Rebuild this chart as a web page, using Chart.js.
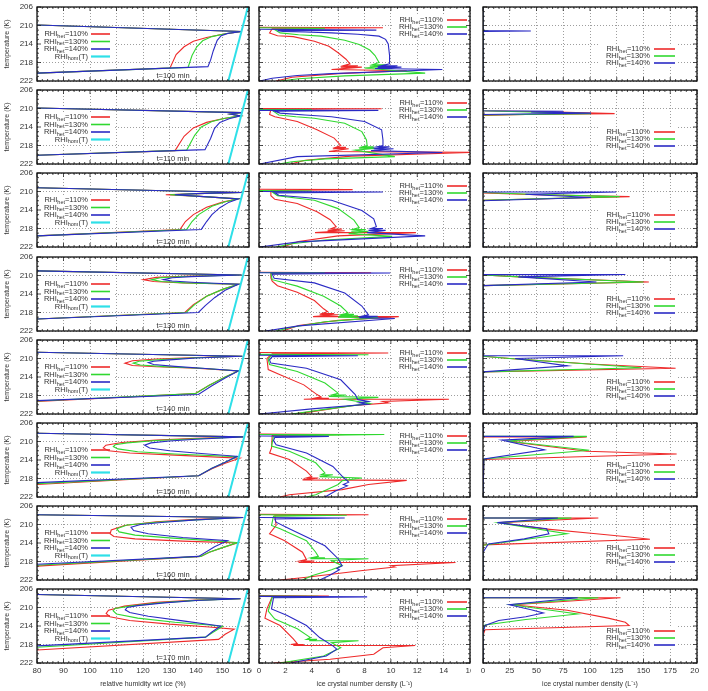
<!DOCTYPE html>
<html>
<head>
<meta charset="utf-8">
<script src="https://cdn.jsdelivr.net/npm/chart.js@4.4.0/dist/chart.umd.min.js"></script>
<style>
  body { margin: 0; background: #fff; width: 708px; height: 691px; position: relative; overflow: hidden; }
</style>
</head>
<body>
<script>
// time of each row (min) and the het thresholds of the three runs
const times = [100, 110, 120, 130, 140, 150, 160, 170];
const hetLabels = ['110%', '130%', '140%'];

// homogeneous freezing threshold [RHI %, T K]
const rhiHom = [[152.2, 222], [159.6, 206]];

// relative humidity wrt ice profiles [RHI %, T K]
const rhi100_110 = [[80,209.9],[157.3,211.3],[150,211.9],[144,212.6],[139,213.4],[135.5,214.6],[132.5,216.3],[130.2,219.2],[80,220.3]];
const rhi100_130 = [[80,209.9],[157.3,211.3],[151,211.8],[146,212.4],[142.5,213.3],[140.3,214.6],[138.5,216.5],[137,219.05],[80,220.3]];
const rhi100_140 = [[80,209.9],[157.3,211.3],[152,211.7],[149.5,212.2],[148,213.2],[146.5,215.5],[145.5,217.5],[144.5,218.9],[80,220.3]];

const rhi110_110 = [[80,209.9],[157.2,210.9],[153,211.2],[156.8,211.6],[150,212.2],[144,213.0],[139,214.2],[135.5,216.0],[132.1,219.1],[80,220.1]];
const rhi110_130 = [[80,209.9],[157.2,210.9],[153,211.2],[156.8,211.6],[151,212.1],[146,212.8],[142,214.0],[139.5,215.8],[136.5,219.0],[80,220.1]];
const rhi110_140 = [[80,209.9],[157.2,210.9],[153,211.2],[156.8,211.6],[152.5,212.2],[149,213.0],[147,214.3],[145.5,216.5],[143.4,218.9],[80,220.1]];

const rhi120_110 = [[80,209.2],[157.2,210.2],[140,210.45],[128.6,210.7],[140,211.0],[156,211.6],[150,212.3],[144,213.4],[139,215.0],[136,216.5],[134,218.2],[80,219.6]];
const rhi120_130 = [[80,209.2],[157.2,210.2],[140,210.45],[130.2,210.7],[140,211.0],[156,211.6],[151,212.2],[146,213.2],[141,215.0],[138.5,216.5],[136.5,218.2],[80,219.6]];
const rhi120_140 = [[80,209.2],[157.2,210.2],[140,210.45],[132,210.7],[140,211.0],[156,211.6],[152.5,212.3],[149,213.5],[146,215.0],[144,216.5],[142,218.2],[80,219.6]];

const rhi130_110 = [[80,209.0],[157.2,209.9],[135,210.15],[125,210.4],[120.1,210.9],[124,211.3],[135,211.6],[156,211.9],[150,213.0],[144,214.5],[139,216.3],[135.8,218.0],[80,219.4]];
const rhi130_130 = [[80,209.0],[157.2,209.9],[135,210.2],[127,210.45],[123.3,210.9],[127,211.3],[136,211.6],[156,211.9],[150,213.0],[144,214.5],[139.5,216.3],[136.3,218.0],[80,219.4]];
const rhi130_140 = [[80,209.0],[157.2,209.9],[138,210.25],[131,210.5],[127.7,210.9],[131,211.2],[140,211.5],[156,211.9],[151,213.2],[147,214.8],[143.5,216.5],[140.9,218.0],[80,219.4]];

const rhi140_110 = [[80,208.65],[157.5,209.5],[140,209.8],[125,210.1],[116,210.5],[113.2,211.0],[116,211.5],[125,211.8],[140,212.1],[156,212.7],[151,214.0],[145,215.8],[139.6,217.6],[80,219.3]];
const rhi140_130 = [[80,208.65],[157.5,209.5],[140,209.85],[127,210.2],[118.5,210.6],[116.3,211.0],[119,211.4],[128,211.75],[142,212.1],[156,212.7],[151,214.0],[145,215.8],[139.8,217.6],[80,219.2]];
const rhi140_140 = [[80,208.65],[157.5,209.5],[140,209.9],[130,210.3],[124,210.6],[122,210.9],[124,211.3],[132,211.7],[145,212.2],[156,212.7],[151,214.2],[146,215.9],[140.9,217.8],[80,219.1]];

const rhi150_110 = [[80,208.2],[157.8,209.0],[140,209.3],[125,209.7],[112,210.2],[106,210.8],[105,211.4],[107,212.0],[115,212.5],[130,212.9],[156.5,213.6],[151,214.7],[146,215.9],[141,217.4],[80,219.3]];
const rhi150_130 = [[80,208.2],[157.8,209.0],[140,209.4],[125,209.8],[114,210.3],[109.5,210.7],[108.8,211.1],[110.5,211.6],[118,212.2],[132,212.7],[155.5,213.3],[151,214.5],[146,215.8],[141,217.4],[80,219.1]];
const rhi150_140 = [[80,208.2],[157.8,209.0],[140,209.5],[130,209.9],[123,210.3],[120.6,210.8],[122.5,211.4],[130,212.0],[142,212.6],[155.5,213.2],[151,214.5],[146,215.8],[141,217.4],[80,218.9]];

const rhi160_110 = [[80,207.9],[157.8,208.5],[140,208.9],[125,209.4],[113,210.2],[108,211.2],[107.6,212.0],[109,212.6],[117,213.1],[135,213.6],[155.6,214.0],[150,215.0],[145,216.0],[141.8,216.9],[80,219.0]];
const rhi160_130 = [[80,207.9],[157.8,208.5],[140,209.0],[125,209.5],[114,210.1],[110.1,210.9],[111,211.6],[117,212.3],[130,212.9],[155.6,213.9],[150,215.0],[145,216.0],[141.8,216.9],[80,218.8]];
const rhi160_140 = [[80,207.9],[157.8,208.5],[140,209.0],[128,209.5],[119,210.0],[115.5,210.6],[116.5,211.3],[122,212.0],[135,212.8],[151.9,213.5],[147,214.8],[141,216.9],[80,218.6]];

const rhi170_110 = [[80,207.2],[156.8,208.1],[140,208.4],[125,208.9],[113,209.7],[107,210.6],[106.1,211.3],[107.5,212.0],[115,212.8],[130,213.6],[145,214.2],[154.4,214.7],[151,215.8],[148.5,216.9],[80,219.2]];
const rhi170_130 = [[80,207.2],[156.8,208.1],[140,208.45],[126,209.0],[115,209.7],[109.5,210.2],[108.7,210.7],[110,211.4],[118,212.3],[132,213.2],[145,213.8],[150,214.1],[146,215.5],[143.6,216.4],[80,218.6]];
const rhi170_140 = [[80,207.2],[156.8,208.1],[140,208.5],[128,209.0],[118,209.6],[114,210.0],[113.3,210.5],[115,211.1],[122,211.9],[135,212.9],[149.3,214.0],[146,215.3],[143.6,216.4],[80,218.3]];

// ice crystal number density, middle column [L-1, T K]
const icnA100_110 = [[0,210.4],[9.4,210.5],[1.0,210.7],[0.8,211.6],[1.4,212.2],[2.6,212.4],[4.2,213.4],[5.3,214.5],[6.0,215.9],[6.6,217.3],[6.9,218.3],[6.4,218.7],[7.5,218.7],[6.2,219.0],[7.8,219.0],[5.5,219.5],[11.2,219.8],[6,220.4],[2.5,221.2],[1.3,222]];
const icnA100_130 = [[0,210.5],[5,210.6],[1.2,210.9],[1.6,211.6],[3.0,212.0],[4.7,212.3],[6.5,213.2],[7.6,214.1],[8.4,215.3],[8.8,216.5],[9.1,218.0],[8.6,218.5],[9.6,218.5],[8.4,218.8],[9.8,218.8],[8.0,219.2],[12.6,220.3],[6.5,220.9],[3,221.5],[1.6,222]];
const icnA100_140 = [[0,210.8],[8.9,211.0],[1.4,211.1],[1.8,211.3],[3.5,211.4],[5.5,211.6],[7.5,211.9],[9.1,212.3],[9.6,213.0],[9.8,214.0],[9.9,216.5],[9.9,218.3],[9.3,218.7],[10.5,218.7],[9.0,219.0],[10.8,219.0],[8.8,219.3],[13.9,219.5],[5.5,220.4],[2.9,220.8],[1,221.4],[0.05,222]];

const icnA110_110 = [[0,210.0],[9.3,210.05],[6.0,210.1],[0.9,210.3],[0.8,211.3],[1.2,211.8],[2.9,212.8],[4.4,214.6],[5.7,216.4],[6.2,218.0],[5.8,218.4],[6.6,218.4],[5.6,218.7],[6.8,218.7],[5.3,219.3],[16.2,219.5],[7,220.3],[3.5,221.2],[2.4,222]];
const icnA110_130 = [[0,210.2],[4,210.25],[1.0,210.4],[1.5,211.4],[2.8,211.8],[4.2,212.1],[6.5,213.2],[7.8,215.0],[8.15,216.8],[8.2,218.0],[7.8,218.3],[8.7,218.3],[7.6,218.6],[8.9,218.6],[7.3,219.0],[10.3,220.4],[5,220.9],[2.5,221.5],[1.5,222]];
const icnA110_140 = [[0,210.4],[9.05,210.4],[1.2,210.6],[1.6,211.0],[3.5,211.4],[5.5,211.8],[8.0,212.8],[9.3,214.6],[9.4,216.8],[9.4,218.0],[8.9,218.3],[9.9,218.3],[8.7,218.7],[10.2,218.7],[8.5,219.1],[13.9,219.5],[2.9,220.4],[0.05,222]];

const icnA120_110 = [[0,209.5],[7.1,209.6],[0.9,209.8],[0.9,210.9],[1.2,211.7],[2.9,212.6],[4.4,214.4],[5.4,216.1],[5.85,217.6],[5.4,218.1],[6.3,218.1],[5.2,218.5],[6.5,218.5],[4.25,218.9],[11.9,218.9],[6,219.6],[3,220.8],[1.8,222]];
const icnA120_130 = [[0,209.8],[4,209.9],[1.0,210.1],[1.4,210.9],[2.8,211.4],[4.2,211.9],[6.0,213.7],[7.2,216.2],[7.6,217.8],[7.1,218.2],[8.1,218.2],[7.0,218.6],[8.3,218.6],[6.8,219.1],[10.1,219.7],[5,220.5],[2.5,221.3],[1.3,222]];
const icnA120_140 = [[0,210.0],[9.4,210.1],[1.2,210.3],[1.5,210.8],[3.5,211.3],[5.5,211.9],[7.8,214.1],[8.7,215.9],[8.9,217.6],[8.5,218.0],[9.4,218.0],[8.3,218.4],[9.6,218.4],[8.2,218.9],[12.6,219.6],[3,220.9],[0.05,222]];

const icnA130_110 = [[0,209.3],[8.5,209.4],[0.9,209.6],[0.9,210.5],[1.0,211.2],[1.4,212.2],[2.9,213.6],[4.2,215.4],[4.9,217.2],[5.2,217.8],[4.8,218.2],[5.7,218.2],[4.6,218.5],[6.0,218.5],[4.1,218.9],[10.6,218.9],[6,219.7],[3,220.8],[1.8,222]];
const icnA130_130 = [[0,209.35],[5,209.4],[0.9,209.6],[1.0,210.9],[2.9,212.3],[4.9,214.5],[6.2,216.6],[6.75,218.1],[6.3,218.4],[7.2,218.4],[6.1,218.7],[7.5,218.7],[6.0,219.0],[9.05,219.1],[5,220.0],[2.5,221.2],[1.3,222]];
const icnA130_140 = [[0,209.4],[9.95,209.45],[1.0,209.7],[1.15,210.6],[4.2,211.6],[6.5,213.8],[7.8,216.6],[8.3,218.5],[7.8,218.8],[9.0,218.8],[7.6,219.1],[10.3,219.3],[3,220.9],[0.5,222]];

const icnA140_110 = [[0,208.7],[9.8,208.8],[1.0,209.0],[0.6,210.0],[0.7,212.4],[1.6,213.5],[3.4,215.7],[4.4,217.8],[4.7,218.3],[4.2,218.6],[5.3,218.6],[3.4,218.8],[14.4,218.8],[9.4,219.3],[9.8,219.6],[7,220.2],[3.8,221.6],[2.5,222]];
const icnA140_130 = [[0,209.1],[8.3,209.2],[0.9,209.4],[0.7,210.2],[0.8,211.3],[2.9,212.8],[5.0,215.3],[6.0,217.5],[5.5,217.9],[6.6,217.9],[5.3,218.2],[9.05,218.4],[6.5,218.8],[8.4,219.7],[5,221],[2.5,222]];
const icnA140_140 = [[0,209.3],[7.5,209.4],[1.0,209.6],[0.8,210.3],[0.9,211.0],[3.6,212.1],[6.2,214.6],[7.3,217.8],[7.5,218.9],[8.3,219.3],[7.6,219.6],[8.2,219.9],[4,220.9],[0.05,222]];

const icnA150_110 = [[0,208.4],[6.65,208.5],[1.0,208.7],[0.95,211.4],[0.8,212.5],[2.3,213.9],[3.6,216.4],[4.0,217.6],[3.6,217.9],[4.5,217.9],[3.3,218.3],[11.2,218.4],[8.3,219.3],[6.3,220.4],[2.3,221.5],[1.6,222]];
const icnA150_130 = [[0,208.5],[9.5,208.5],[1.1,208.8],[0.95,211.0],[2.3,212.1],[4.3,214.6],[5.0,216.8],[4.7,217.2],[5.6,217.2],[4.6,217.6],[7.8,217.9],[6.3,218.5],[6.0,219.3],[4.3,221.5],[3.6,222]];
const icnA150_140 = [[0,208.8],[5.3,208.9],[1.2,209.1],[1.1,209.8],[1.3,210.7],[3.6,212.5],[5.6,215.4],[6.3,217.5],[6.8,218.8],[6.4,219.3],[6.7,219.6],[5.8,220.7],[5.0,222]];

const icnA160_110 = [[0,207.8],[8.3,207.9],[1.2,208.1],[1.3,210.2],[0.8,212.0],[1.95,213.5],[3.3,216.0],[3.6,217.6],[3.1,217.9],[4.2,217.9],[3.0,218.2],[14.9,218.2],[10.0,218.9],[10.3,219.2],[7.7,220.0],[3.6,221.4],[1.6,222]];
const icnA160_130 = [[0,207.9],[6.65,208.0],[1.1,208.2],[0.95,210.2],[1.6,210.9],[3.6,213.5],[4.3,216.0],[4.5,216.9],[4.0,217.2],[5.0,217.2],[3.9,217.4],[8.3,217.4],[5.5,217.8],[6.3,218.9],[5.5,219.8],[4.0,221.1],[3.3,222]];
const icnA160_140 = [[0,208.5],[6.5,208.6],[1.2,208.8],[1.3,209.5],[2.3,210.9],[5.0,214.6],[6.0,217.4],[6.3,218.9],[5.9,219.5],[6.1,219.8],[5.3,221.1],[4.6,222]];

const icnA170_110 = [[0,207.4],[5.3,207.5],[1.0,207.7],[0.6,210.3],[0.45,212.3],[1.6,213.9],[2.6,216.8],[2.9,217.8],[2.4,218.0],[3.4,218.0],[2.6,218.2],[11.85,218.2],[9.4,218.7],[8.7,220.1],[5.4,221.2],[1.1,222]];
const icnA170_130 = [[0,207.5],[4.5,207.6],[1.0,207.8],[0.7,210.8],[1.2,212.5],[2.9,214.6],[3.9,216.5],[3.6,216.9],[4.4,216.9],[3.8,217.2],[7.55,217.2],[5.5,217.6],[6.2,218.7],[4.9,220.5],[1.6,222]];
const icnA170_140 = [[0,207.6],[8.2,207.7],[1.1,207.9],[0.95,210.3],[2.1,211.7],[3.6,213.9],[4.6,216.5],[5.6,218.3],[5.9,219.0],[5.1,220.5],[2.4,222]];

// ice crystal number density, right column [L-1, T K]
const icnB100_110 = [[0,206],[0,211.1],[5,211.2],[0,211.3],[0,222]];
const icnB100_130 = [[0,206],[0,211.1],[5,211.2],[0,211.3],[0,222]];
const icnB100_140 = [[0,206],[0,211.1],[44.7,211.2],[0,211.3],[0,222]];

const icnB110_110 = [[0,206],[0,210.5],[60,210.7],[123,211.1],[40,211.3],[0,211.5],[0,222]];
const icnB110_130 = [[0,206],[0,210.5],[101,211.1],[0,211.4],[0,222]];
const icnB110_140 = [[0,206],[0,210.5],[75,210.6],[45,210.75],[101,211.0],[0,211.3],[0,222]];

const icnB120_110 = [[0,206],[0,210.3],[50,210.7],[137,211.1],[0,211.9],[0,222]];
const icnB120_130 = [[0,206],[0,210.2],[45,210.6],[127.7,211.1],[0,211.9],[0,222]];
const icnB120_140 = [[0,206],[0,210.1],[124.5,210.1],[39.6,210.6],[101,211.3],[0,212.0],[0,222]];

const icnB130_110 = [[0,206],[0,209.9],[38,210.35],[155,211.4],[0,212.2],[0,222]];
const icnB130_130 = [[0,206],[0,209.9],[35,210.3],[150,211.4],[0,212.2],[0,222]];
const icnB130_140 = [[0,206],[0,209.8],[133,209.8],[33,210.3],[106,211.4],[0,212.2],[0,222]];

const icnB140_110 = [[0,206],[0,209.5],[28,210.05],[100,211.2],[180,212.1],[0,212.9],[0,222]];
const icnB140_130 = [[0,206],[0,209.5],[25,210.0],[148,212.0],[0,212.9],[0,222]];
const icnB140_140 = [[0,206],[0,209.4],[131,209.4],[30,210.0],[79,211.6],[0,212.9],[0,222]];

const icnB150_110 = [[0,206],[0,209.0],[97,209.0],[24,210.0],[97,212.1],[150,212.5],[181,212.7],[0.8,213.9],[0,222]];
const icnB150_130 = [[0,206],[0,208.9],[97,208.9],[21.8,209.9],[99.4,211.9],[0.8,213.8],[0,222]];
const icnB150_140 = [[0,206],[0,208.9],[84.7,208.9],[17.6,209.7],[57.4,211.8],[0.8,213.8],[0,222]];

const icnB160_110 = [[0,206],[0,208.6],[107.8,208.6],[15.5,209.6],[55.3,210.9],[105.7,212.0],[137,212.7],[156,213.2],[0,214.4],[0,222]];
const icnB160_130 = [[0,206],[0,208.6],[82.6,208.6],[14,209.6],[78.4,212.0],[0,214.5],[0,222]];
const icnB160_140 = [[0,206],[0,208.6],[70,208.6],[13.4,209.6],[59.5,210.9],[61.6,212.0],[38.6,213.1],[5,214.2],[0,216],[0,222]];

const icnB170_110 = [[0,206],[0,207.9],[128.5,207.9],[28,209.4],[78.8,210.6],[117,212.3],[133,213.2],[136.5,213.9],[1.9,214.8],[0,216],[0,222]];
const icnB170_130 = [[0,206],[0,207.9],[107.7,207.9],[26,209.4],[70,210.8],[88.5,211.4],[40,212.6],[1.9,213.8],[0,215],[0,222]];
const icnB170_140 = [[0,206],[0,207.9],[88.5,207.9],[24.4,209.4],[45,210.5],[56.4,211.2],[40,212],[14.7,212.8],[1.9,213.9],[0,215.4],[0,222]];

const rhiRows = [
    [rhi100_110, rhi100_130, rhi100_140], [rhi110_110, rhi110_130, rhi110_140],
    [rhi120_110, rhi120_130, rhi120_140], [rhi130_110, rhi130_130, rhi130_140],
    [rhi140_110, rhi140_130, rhi140_140], [rhi150_110, rhi150_130, rhi150_140],
    [rhi160_110, rhi160_130, rhi160_140], [rhi170_110, rhi170_130, rhi170_140]
];
const icnARows = [
    [icnA100_110, icnA100_130, icnA100_140], [icnA110_110, icnA110_130, icnA110_140],
    [icnA120_110, icnA120_130, icnA120_140], [icnA130_110, icnA130_130, icnA130_140],
    [icnA140_110, icnA140_130, icnA140_140], [icnA150_110, icnA150_130, icnA150_140],
    [icnA160_110, icnA160_130, icnA160_140], [icnA170_110, icnA170_130, icnA170_140]
];
const icnBRows = [
    [icnB100_110, icnB100_130, icnB100_140], [icnB110_110, icnB110_130, icnB110_140],
    [icnB120_110, icnB120_130, icnB120_140], [icnB130_110, icnB130_130, icnB130_140],
    [icnB140_110, icnB140_130, icnB140_140], [icnB150_110, icnB150_130, icnB150_140],
    [icnB160_110, icnB160_130, icnB160_140], [icnB170_110, icnB170_130, icnB170_140]
];

const FONT = '"Liberation Sans", Arial, sans-serif';
const lineColors = ['#ee2a2a', '#30d830', '#2a2ac4'];
const homColor = '#2ee0e8';
Chart.defaults.font.family = FONT;
Chart.defaults.color = '#333';

const cols = [
    { left: 0, width: 256, yW: 37, padR: 7, min: 80, max: 160, step: 10, sub: 5, title: 'relative humidity wrt ice (%)', key: 'left' },
    { left: 252, width: 222, yW: 7, padR: 4, min: 0, max: 16, step: 2, sub: 4, title: 'ice crystal number density (L\u207B\u00B9)', key: 'top' },
    { left: 471, width: 228, yW: 12, padR: 2, min: 0, max: 200, step: 25, sub: 5, title: 'ice crystal number density (L\u207B\u00B9)', key: 'mid' }
];
const plotTops = times.map((t, i) => Math.round(7 + 83.2 * i));

function line(ctx, x1, y1, x2, y2) {
    ctx.beginPath(); ctx.moveTo(x1, y1); ctx.lineTo(x2, y2); ctx.stroke();
}

function keyText(ctx, xr, y, sub, tail) {
    const big = '7.5px ' + FONT, small = '5.5px ' + FONT;
    ctx.font = big;
    const w1 = ctx.measureText('RHI').width, w3 = ctx.measureText(tail).width;
    ctx.font = small;
    const w2 = ctx.measureText(sub).width;
    let x = xr - w1 - w2 - w3;
    ctx.textAlign = 'left';
    ctx.textBaseline = 'middle';
    ctx.fillStyle = '#333';
    ctx.font = big; ctx.fillText('RHI', x, y); x += w1;
    ctx.font = small; ctx.fillText(sub, x, y + 2); x += w2;
    ctx.font = big; ctx.fillText(tail, x, y);
}

function keyGeometry(kind, a) {
    if (kind === 'left') return { tx: a.left + 51, l0: a.left + 54, l1: a.left + 73, y0: a.top + 27, dy: 7.5, box: [a.left + 3, a.top + 22, 73, 32] };
    if (kind === 'top') return { tx: a.right - 27, l0: a.right - 23, l1: a.right - 3, y0: a.top + 13, dy: 7, box: [a.right - 76, a.top + 8, 75, 23] };
    return { tx: a.right - 47, l0: a.right - 43, l1: a.right - 22, y0: a.top + 42, dy: 7, box: [a.right - 97, a.top + 37, 78, 23] };
}

const framePlugin = {
    id: 'frame',
    beforeDraw(chart) {
        const ctx = chart.ctx;
        ctx.save();
        ctx.fillStyle = '#fff';
        ctx.fillRect(0, 0, chart.width, chart.height);
        ctx.restore();
    },
    beforeDatasetsDraw(chart, args, o) {
        const ctx = chart.ctx, g = keyGeometry(o.key, chart.chartArea);
        ctx.save();
        ctx.fillStyle = '#fff';
        ctx.fillRect(g.box[0], g.box[1], g.box[2], g.box[3]);
        ctx.restore();
    },
    afterDatasetsDraw(chart, args, o) {
        const ctx = chart.ctx, a = chart.chartArea;
        const xs = chart.scales.x, ys = chart.scales.y;
        ctx.save();
        // inward ticks on all four sides
        ctx.strokeStyle = '#222';
        ctx.lineWidth = 0.8;
        const dx = o.step / o.sub;
        for (let i = 0; xs.min + i * dx <= xs.max + 1e-9; i++) {
            const p = xs.getPixelForValue(xs.min + i * dx), len = i % o.sub === 0 ? 4 : 2;
            line(ctx, p, a.bottom, p, a.bottom - len);
            line(ctx, p, a.top, p, a.top + len);
        }
        for (let v = ys.min; v <= ys.max + 1e-9; v += 1) {
            const p = ys.getPixelForValue(v), len = (v - ys.min) % 4 === 0 ? 4 : 2;
            line(ctx, a.left, p, a.left + len, p);
            line(ctx, a.right, p, a.right - len, p);
        }
        // frame
        ctx.strokeStyle = '#111';
        ctx.lineWidth = 1.3;
        ctx.strokeRect(a.left, a.top, a.right - a.left, a.bottom - a.top);
        // key
        const g = keyGeometry(o.key, a);
        hetLabels.forEach((lab, k) => {
            const y = g.y0 + k * g.dy;
            keyText(ctx, g.tx, y, 'het', '=' + lab);
            ctx.strokeStyle = lineColors[k];
            ctx.lineWidth = 1.6;
            line(ctx, g.l0, y, g.l1, y);
        });
        if (o.key === 'left') {
            const y = g.y0 + 3 * g.dy;
            keyText(ctx, g.tx, y, 'hom', '(T)');
            ctx.strokeStyle = homColor;
            ctx.lineWidth = 2.2;
            line(ctx, g.l0, y, g.l1, y);
            ctx.fillStyle = '#333';
            ctx.font = '7.5px ' + FONT;
            ctx.textAlign = 'center';
            ctx.textBaseline = 'middle';
            ctx.fillText('t=' + o.time + ' min', a.left + 136, a.top + 68.5);
        }
        ctx.restore();
    }
};

function addPanel(row, col) {
    const c = cols[col];
    const last = row === times.length - 1;
    const top = plotTops[row] - 5;
    const h = last ? 691 - top : 83;
    const cv = document.createElement('canvas');
    cv.width = c.width;
    cv.height = h;
    cv.style.cssText = 'position:absolute;left:' + c.left + 'px;top:' + top + 'px;width:' + c.width + 'px;height:' + h + 'px';
    document.body.appendChild(cv);

    const series = [rhiRows, icnARows, icnBRows][col][row];
    const datasets = series.map((pts, k) => ({
        data: pts.map(p => ({ x: p[0], y: p[1] })),
        borderColor: lineColors[k],
        borderWidth: 1.1,
        pointRadius: 0,
        showLine: true,
        tension: 0,
        order: 3 - k
    }));
    if (col === 0) {
        datasets.push({
            data: rhiHom.map(p => ({ x: p[0], y: p[1] })),
            borderColor: homColor, borderWidth: 2, pointRadius: 0, showLine: true, order: 0
        });
    }

    const grid = { color: 'rgba(0,0,0,0.55)', lineWidth: 0.7, drawTicks: false };
    new Chart(cv, {
        type: 'scatter',
        data: { datasets },
        plugins: [framePlugin],
        options: {
            responsive: false,
            animation: false,
            events: [],
            devicePixelRatio: 1,
            layout: { padding: { top: 5, bottom: last ? 0 : 4, left: 0, right: c.padR } },
            plugins: {
                legend: { display: false },
                tooltip: { enabled: false },
                frame: { key: c.key, time: times[row], step: c.step, sub: c.sub }
            },
            scales: {
                x: {
                    type: 'linear', min: c.min, max: c.max,
                    ticks: { stepSize: c.step, display: last, autoSkip: false, maxRotation: 0, padding: 3, font: { size: 8 }, color: '#333' },
                    grid,
                    border: { display: false, dash: [1, 2] },
                    title: { display: last, text: c.title, font: { size: 7 }, color: '#333', padding: { top: 2, bottom: 3 } },
                    afterFit(s) { s.height = last ? 28 : 0; s.paddingLeft = 0; s.paddingRight = 0; }
                },
                y: {
                    type: 'linear', min: 206, max: 222, reverse: true,
                    ticks: { stepSize: 4, display: col === 0, padding: 4, font: { size: 8 }, color: '#333' },
                    grid,
                    border: { display: false, dash: [1, 2] },
                    title: { display: col === 0, text: 'temperature (K)', font: { size: 7 }, color: '#333', padding: { top: 3, bottom: 0 } },
                    afterFit(s) { s.width = c.yW; s.paddingTop = 0; s.paddingBottom = 0; }
                }
            }
        }
    });
}

times.forEach((t, row) => {
    for (let col = 0; col < 3; col++) addPanel(row, col);
});
</script>
</body>
</html>
